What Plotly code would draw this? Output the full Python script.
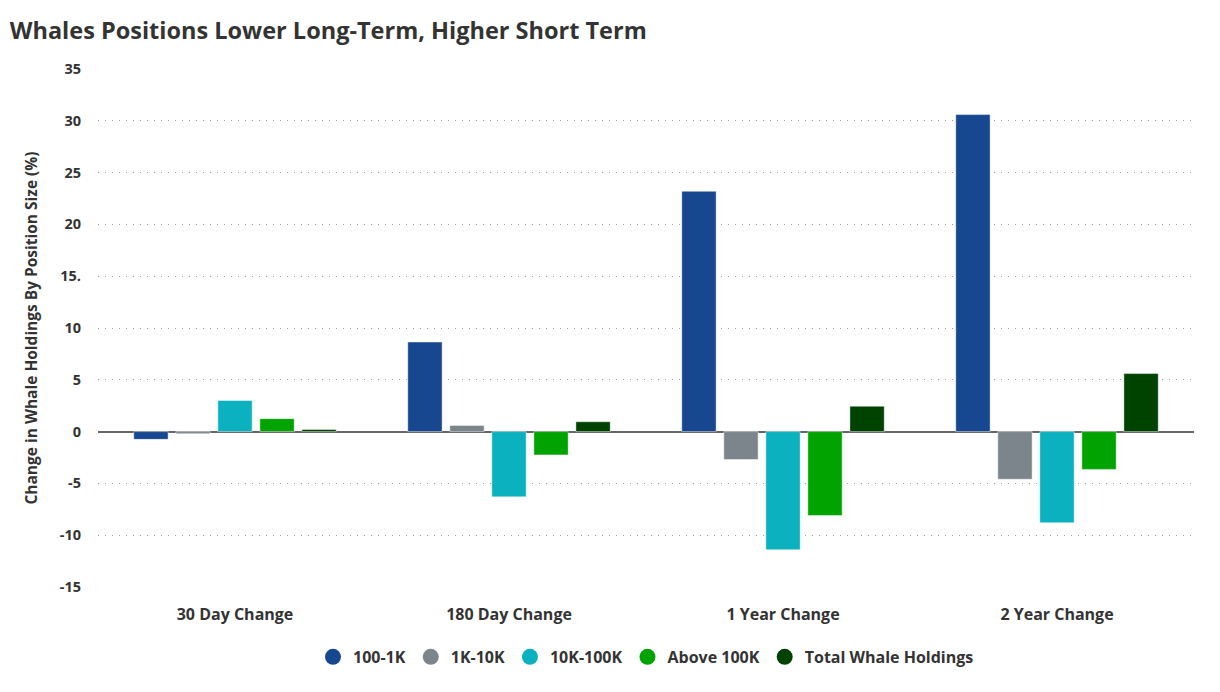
import plotly.graph_objects as go

categories = ["30 Day Change", "180 Day Change", "1 Year Change", "2 Year Change"]
series_names = ["100-1K", "1K-10K", "10K-100K", "Above 100K", "Total Whale Holdings"]
v_100_1k = [-0.75, 8.65, 23.2, 30.6]
v_1k_10k = [-0.2, 0.6, -2.7, -4.6]
v_10k_100k = [3.0, -6.3, -11.4, -8.8]
v_above_100k = [1.25, -2.25, -8.1, -3.65]
v_total = [0.2, 0.95, 2.45, 5.6]
series_values = [v_100_1k, v_1k_10k, v_10k_100k, v_above_100k, v_total]
colors = ["#17478e", "#7d858c", "#0bb1bf", "#00a300", "#004200"]

tick_vals = [35, 30, 25, 20, 15, 10, 5, 0, -5, -10, -15]
tick_text = ["35", "30", "25", "20", "15.", "10", "5", "0", "-5", "-10", "-15"]

FONT = "Open Sans"
TXT = "#333333"

fig = go.Figure()
for name, vals, col in zip(series_names, series_values, colors):
    fig.add_trace(go.Bar(
        x=categories, y=vals, name=name, showlegend=False, legendgroup=name,
        marker=dict(color=col, line=dict(color="rgba(255,255,255,0.45)", width=1)),
        hoverinfo="x+y+name",
    ))
for name, col in zip(series_names, colors):
    fig.add_trace(go.Scatter(
        x=[None], y=[None], mode="markers", name=name, legendgroup=name,
        marker=dict(symbol="circle", size=16, color=col), showlegend=True,
    ))

fig.update_layout(
    width=1220, height=692,
    paper_bgcolor="white", plot_bgcolor="white",
    margin=dict(l=98, r=26, t=69, b=105),
    barmode="group", bargap=0.233, bargroupgap=0.183,
    font=dict(family=FONT, color=TXT, size=14),
    title=dict(text="Whales Positions Lower Long-Term, Higher Short Term",
               x=0.008, xanchor="left", y=0.955, yanchor="middle",
               font=dict(family=FONT, size=23.5, color=TXT, weight="bold")),
    legend=dict(orientation="h", x=0.5, xanchor="center", y=-0.135, yanchor="middle",
                font=dict(family=FONT, size=16, color=TXT, weight="bold"),
                itemwidth=30, tracegroupgap=0, bgcolor="rgba(0,0,0,0)"),
    showlegend=True,
)
fig.update_xaxes(
    type="category", showgrid=False, showline=False, zeroline=False,
    tickfont=dict(family=FONT, size=16, color=TXT, weight="bold"),
    ticks="", ticklabelstandoff=16,
)
fig.update_yaxes(
    range=[-15, 35], tickmode="array", tickvals=tick_vals, ticktext=tick_text,
    showgrid=True, gridcolor="#a0a0a0", griddash="1px,6px", gridwidth=1,
    zeroline=True, zerolinecolor="#666666", zerolinewidth=2,
    showline=False, ticks="", ticklabelstandoff=16,
    tickfont=dict(family=FONT, size=14.5, color=TXT, weight="bold"),
    title=dict(text="Change in Whale Holdings By Position Size (%)", standoff=18,
               font=dict(family=FONT, size=15.5, color=TXT, weight="bold")),
)

fig.write_html("out.html", config={"displayModeBar": False},
               post_script="document.body.style.margin='0';")
